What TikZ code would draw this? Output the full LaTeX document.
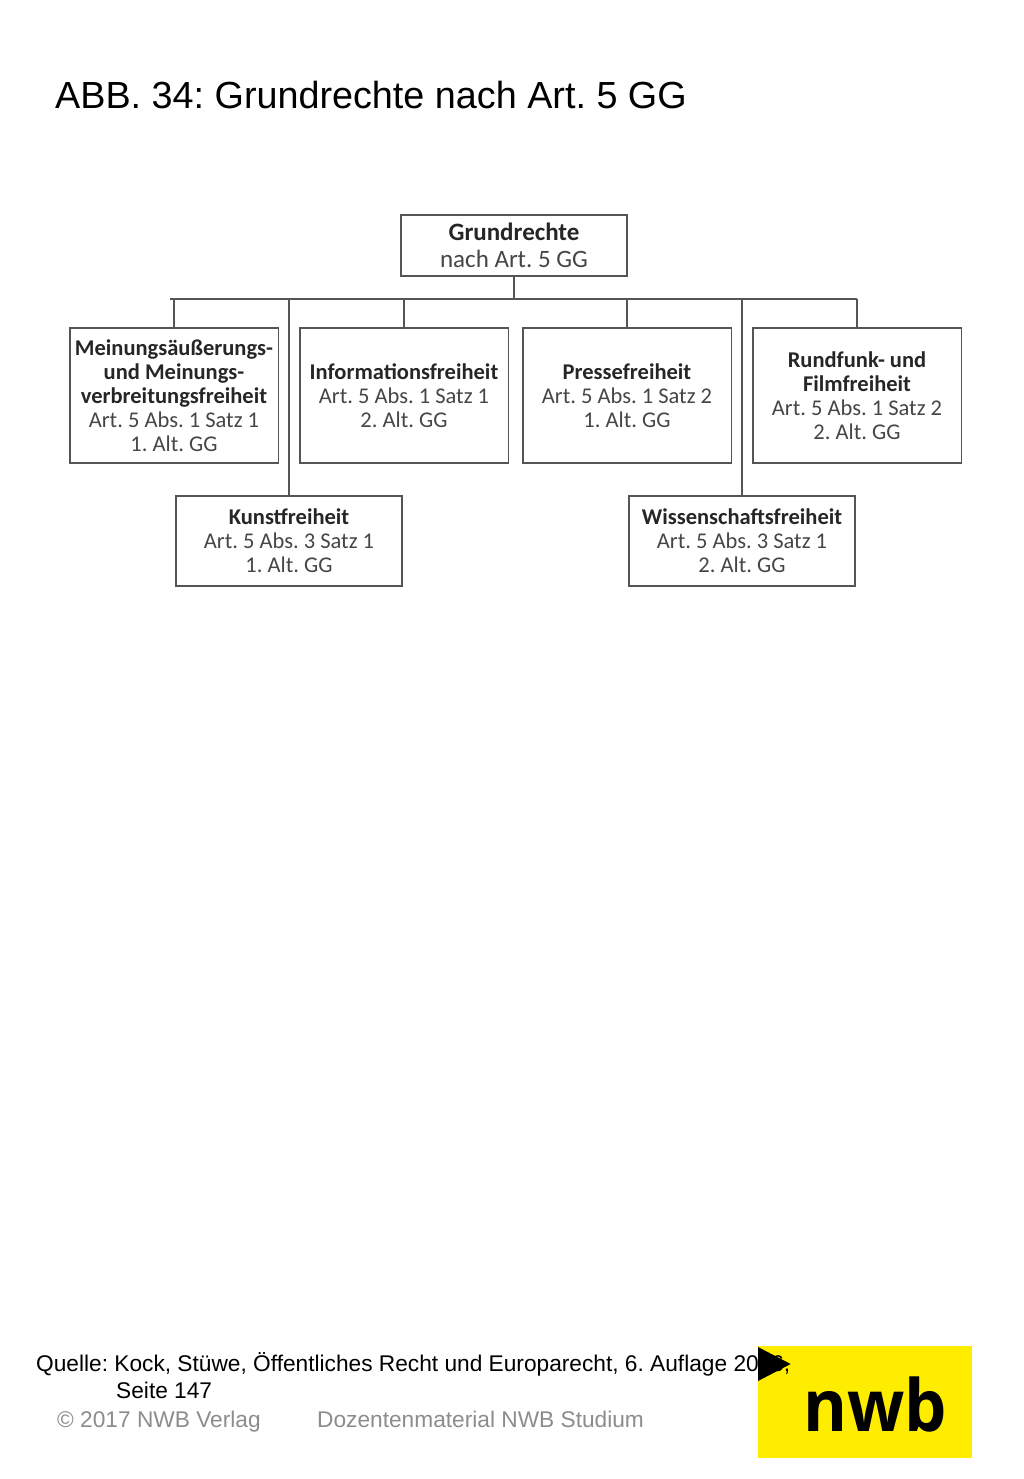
\documentclass[tikz,border=0pt]{standalone}
\usepackage{fontspec}
\setmainfont{Liberation Sans}
\newfontfamily\boxfont{Carlito}
\newfontfamily\logofont[FakeStretch=0.93]{Open Sans}
\usepackage{xcolor}
\usetikzlibrary{
  positioning,
  shapes.geometric
}
\definecolor{linegray}{RGB}{85,85,85}
\definecolor{textgray}{RGB}{70,70,70}
\definecolor{footgray}{RGB}{140,140,140}
\definecolor{logoyellow}{RGB}{255,237,0}
\newcommand{\hd}[1]{{\bfseries\color{black!85}#1}}
\frenchspacing
\tikzset{
  lawbox/.style={
    draw=linegray,
    line width=1.5pt,
    fill=white,
    align=center,
    outer sep=0pt,
    inner sep=0pt,
    text=textgray,
    font=\boxfont\fontsize{22.5}{24}\selectfont
  },
  widebox/.style={lawbox,minimum width=208.5pt,minimum height=135pt},
  lowbox/.style={lawbox,minimum width=226pt,minimum height=90pt},
  busline/.style={draw=linegray,line width=1.5pt},
  foottext/.style={anchor=base west,inner sep=0pt,font=\fontsize{22.7}{27}\selectfont}
}

\begin{document}
\begin{tikzpicture}[x=1pt,y=-1pt]
  \useasboundingbox (0,0) rectangle (1024,1479);

  \node[anchor=base west,inner sep=0pt,font=\fontsize{37.75}{44}\selectfont] (title) at (55,109) {ABB. 34: Grundrechte nach Art. 5 GG};

  \node[lawbox,minimum width=226pt,minimum height=61pt,font=\boxfont\fontsize{25}{27}\selectfont] (root) at (514,245.5) {
    \hd{Grundrechte}\\nach Art. 5 GG
  };
  \node[widebox] (meinung) at (174,395.5) {
    \hd{Meinungsäußerungs-}\\\hd{und Meinungs-}\\\hd{verbreitungsfreiheit}\\Art. 5 Abs. 1 Satz 1\\1. Alt. GG
  };
  \node[widebox,right=21.5pt of meinung] (info) {
    \hd{Informationsfreiheit}\\Art. 5 Abs. 1 Satz 1\\2. Alt. GG
  };
  \node[widebox,right=14.5pt of info] (presse) {
    \hd{Pressefreiheit}\\Art. 5 Abs. 1 Satz 2\\1. Alt. GG
  };
  \node[widebox,right=21.5pt of presse] (rundfunk) {
    \hd{Rundfunk- und}\\\hd{Filmfreiheit}\\Art. 5 Abs. 1 Satz 2\\2. Alt. GG
  };
  \node[lowbox] (kunst) at (289,541) {
    \hd{Kunstfreiheit}\\Art. 5 Abs. 3 Satz 1\\1. Alt. GG
  };
  \node[lowbox] (wissen) at (742,541) {
    \hd{Wissenschaftsfreiheit}\\Art. 5 Abs. 3 Satz 1\\2. Alt. GG
  };

  \coordinate (busl) at (170,299);
  \coordinate (busr) at (857,299);
  \draw[busline] (busl) -- (busr);
  \draw[busline] (root.south) -- (root.south |- busl);
  \foreach \n in {meinung,info,presse,rundfunk,kunst,wissen}
    \draw[busline] (\n.north) -- (\n.north |- busl);

  \node[fill=logoyellow,anchor=north west,minimum width=214pt,minimum height=112pt,inner sep=0pt,outer sep=0pt] (logo) at (758,1346) {};
  \node[inner sep=0pt,anchor=base,font=\logofont\bfseries\fontsize{72}{72}\selectfont] (nwb) at (875.5,1431) {nwb};

  \node[foottext] (quelle) at (36,1371) {Quelle: Kock, Stüwe, Öffentliches Recht und Europarecht, 6. Auflage 2016,};
  \node[foottext] (seite) at (116,1398) {Seite 147};
  \node[foottext,text=footgray] (copy) at (57,1427) {© 2017 NWB Verlag};
  \node[foottext,text=footgray] (dozent) at (317,1427) {Dozentenmaterial NWB Studium};

  \node[isosceles triangle,isosceles triangle apex angle=55,fill=black,inner sep=0pt,minimum height=32pt,minimum width=34pt,anchor=west,outer sep=0pt] (play) at (758,1364) {};
\end{tikzpicture}
\end{document}
